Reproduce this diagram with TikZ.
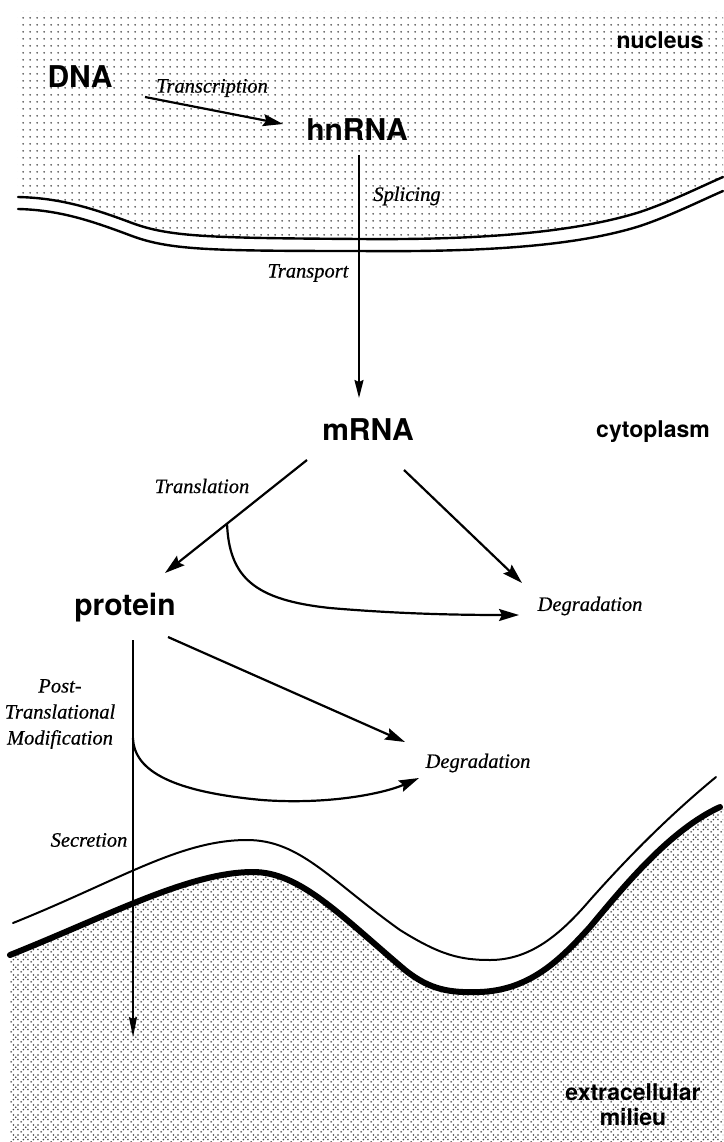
\documentclass[tikz,border=0pt]{standalone}
\usepackage{fontspec}
\setmainfont{Liberation Serif}
\newfontfamily\hv{TeX Gyre Heros}
\newfontfamily\procfont{Liberation Serif}[FakeBold=0.5]
\usetikzlibrary{arrows.meta,patterns.meta}

\tikzdeclarepattern{name=nucdots, type=uncolored,
  bounding box={(0pt,0pt) and (6.6pt,6.6pt)}, tile size={(6.6pt,6.6pt)},
  code={\pgfpathcircle{\pgfpoint{3.3pt}{3.3pt}}{1.0pt}\pgfusepath{fill}}}

\tikzdeclarepattern{name=xdots, type=uncolored,
  bounding box={(0pt,0pt) and (10pt,10pt)}, tile size={(10pt,10pt)},
  code={\foreach \a/\b in {1.25/1.25,3.75/3.75,6.25/6.25,8.75/8.75,3.75/8.75,8.75/3.75}
        {\pgfpathcircle{\pgfpoint{\a pt}{\b pt}}{0.95pt}}\pgfusepath{fill}}}

\tikzset{
  bigword/.style={font=\hv\bfseries\fontsize{30}{34}\selectfont, inner sep=0pt},
  regionword/.style={font=\hv\bfseries\fontsize{23}{25}\selectfont, inner sep=0pt, align=center},
  procword/.style={font=\procfont\itshape\fontsize{20.5}{26}\selectfont, inner sep=0pt, align=center},
  arr/.style={line width=2.2pt, -{Stealth[length=20pt,width=12pt,inset=3pt]}},
  thinarr/.style={line width=1.8pt, -{Stealth[length=18pt,width=9pt,inset=2pt]}},
  membline/.style={line width=2.4pt, line cap=round},
  thinmemb/.style={line width=2pt, line cap=round},
  thickmemb/.style={line width=6pt, line cap=round},
  nucfill/.style={pattern=nucdots, pattern color=black!75},
  extfill/.style={pattern=xdots, pattern color=black!75}
}

\def\thickcurve{(10,955) .. controls (110,915) and (190,872) .. (253,872)
  .. controls (300,872) and (340,915) .. (405,970)
  .. controls (430,990) and (450,993) .. (480,992)
  .. controls (530,990) and (560,960) .. (590,927)
  .. controls (625,885) and (670,830) .. (720,807)}

\begin{document}
\begin{tikzpicture}[x=1pt,y=-1pt]
\path[use as bounding box, fill=white] (0,0) rectangle (723,1142);

% ---------- nucleus region ----------
\fill[nucfill] (17,12) -- (723,12) -- (723,177)
  .. controls (700,187) and (670,202) .. (640,212)
  .. controls (570,234) and (470,240) .. (360,239)
  .. controls (210,238) and (170,237) .. (132,223)
  .. controls (92,208) and (60,198) .. (18,197) -- (17,197) -- cycle;

% nuclear envelope
\draw[membline] (18,197) .. controls (60,198) and (92,208) .. (132,223)
  .. controls (170,237) and (210,238) .. (360,239)
  .. controls (470,240) and (570,234) .. (640,212)
  .. controls (670,202) and (700,187) .. (723,177);
\draw[membline] (18,209) .. controls (60,210) and (92,221) .. (132,236)
  .. controls (170,250) and (210,251) .. (360,251)
  .. controls (470,252) and (570,248) .. (640,226)
  .. controls (670,216) and (700,201) .. (723,191);

% ---------- extracellular region ----------
\fill[extfill] \thickcurve -- (723,807) -- (723,1142) -- (10,1142) -- cycle;

% plasma membrane
\draw[thinmemb] (13,923) .. controls (120,880) and (180,840) .. (247,840)
  .. controls (300,840) and (330,880) .. (400,930)
  .. controls (440,955) and (460,960) .. (490,960)
  .. controls (530,960) and (560,935) .. (590,900)
  .. controls (630,855) and (670,815) .. (716,777);
\draw[thickmemb] \thickcurve;

% ---------- words ----------
\node[regionword] (nucleus) at (660,40) {nucleus};
\node[regionword] (cytoplasm) at (653,432) {cytoplasm};
\node[regionword] (milieu) at (633,1105) {extracellular\\milieu};

\node[bigword] (dna) at (80,77) {DNA};
\node[bigword] (hnrna) at (357,130) {hnRNA};
\node[bigword] (mrna) at (368,430) {mRNA};
\node[bigword] (protein) at (125,608) {protein};

\node[procword] (transcription) at (212,88) {Transcription};
\node[procword] (splicing) at (407,196) {Splicing};
\node[procword] (transport) at (308,273) {Transport};
\node[procword] (translation) at (202,486) {Translation};
\node[procword] (degr1) at (590,606) {Degradation};
\node[procword] (ptm) at (60,714) {Post-\\Translational\\Modification};
\node[procword] (degr2) at (478,763) {Degradation};
\node[procword] (secretion) at (89,840) {Secretion};

% ---------- connector ends ----------
\coordinate (dnaR) at (145,97);
\coordinate (hnL) at (283,124);
\coordinate (hnB) at (359,155);
\coordinate (mT) at (359,398);
\coordinate (mL) at (307,460);
\coordinate (pT) at (165,573);
\coordinate (mR) at (404,470);
\coordinate (d1T) at (522,583);
\coordinate (br1) at (227,523);
\coordinate (d1L) at (519,615);
\coordinate (pR) at (168,637);
\coordinate (d2T) at (405,742);
\coordinate (pB) at (133,640);
\coordinate (secEnd) at (133,1037);
\coordinate (br2) at (133,738);
\coordinate (d2L) at (419,778);

% ---------- connectors ----------
\draw[arr] (dnaR) -- (hnL);
\draw[thinarr] (hnB) -- (mT);
\draw[arr] (mL) -- (pT);
\draw[arr] (mR) -- (d1T);
\draw[arr] (br1) .. controls (229,578) and (255,600) .. (330,608)
               .. controls (400,614) and (460,615) .. (d1L);
\draw[arr] (pR) -- (d2T);
\draw[thinarr, -{Stealth[length=20pt,width=8pt,inset=2pt]}] (pB) -- (secEnd);
\draw[arr] (br2) .. controls (134,772) and (175,792) .. (262,800)
               .. controls (330,805) and (385,793) .. (d2L);
\end{tikzpicture}
\end{document}
